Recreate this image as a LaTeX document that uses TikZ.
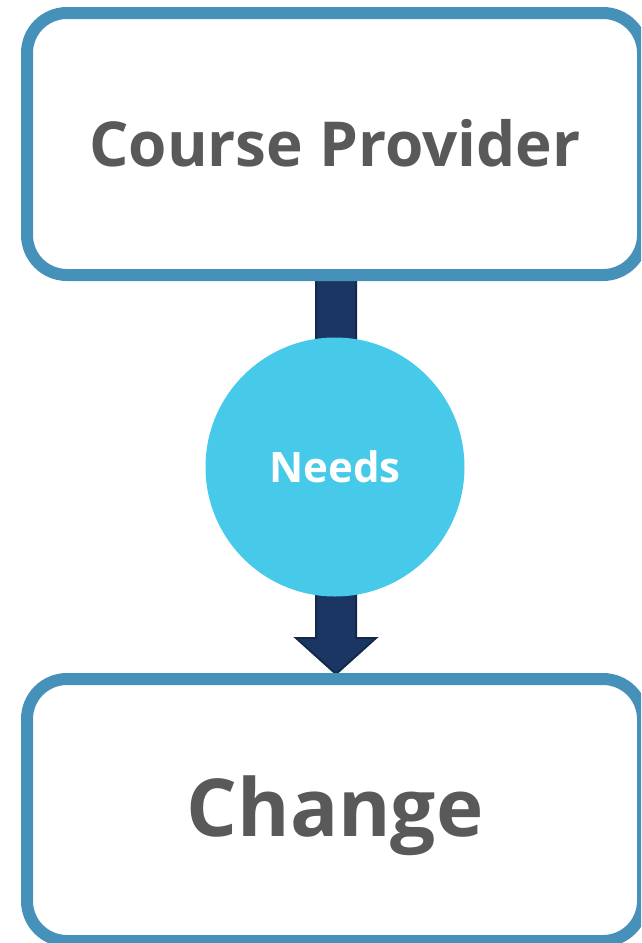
\documentclass[tikz,border=0pt]{standalone}
\usepackage{fontspec}
\setmainfont{Open Sans}
\definecolor{boxblue}{HTML}{4591BA}
\definecolor{circblue}{HTML}{47CAE9}
\definecolor{navy}{HTML}{1C3663}
\definecolor{navyedge}{HTML}{14284A}
\definecolor{txtgray}{HTML}{595959}
\begin{document}
\begin{tikzpicture}[x=1pt,y=-1pt,
  box/.style={draw=boxblue, line width=12pt, rounded corners=40pt, fill=white,
    minimum width=616pt, minimum height=262pt, inner sep=0pt, outer sep=0pt,
    text=txtgray, text depth=0pt},
  hub/.style={circle, fill=circblue, draw=none, minimum size=259pt, inner sep=0pt,
    text=white, text height=30pt, text depth=0pt,
    font=\bfseries\fontsize{42}{48}\selectfont},
  blockarrow/.style={fill=navy, draw=navyedge, line width=2pt, line join=miter}
]
\useasboundingbox (0,0) rectangle (641,943);
\clip (0,0) rectangle (641,943);
\coordinate (s1) at (316,270);
\coordinate (s2) at (356,270);
\coordinate (h1) at (356,638);
\coordinate (h2) at (376,638);
\coordinate (tip) at (336,674);
\coordinate (h3) at (296,638);
\coordinate (h4) at (316,638);
\draw[blockarrow] (s1) -- (s2) -- (h1) -- (h2) -- (tip) -- (h3) -- (h4) -- cycle;
\node[box, text height=45pt, font=\bfseries\fontsize{62}{68}\selectfont] (top) at (335,144) {Course Provider};
\node[box, text height=57pt, text depth=4pt, font=\bfseries\fontsize{80}{86}\selectfont] (bottom) at (335,810) {Change};
\node[hub] (needs) at (335,467) {Needs};
\end{tikzpicture}
\end{document}
